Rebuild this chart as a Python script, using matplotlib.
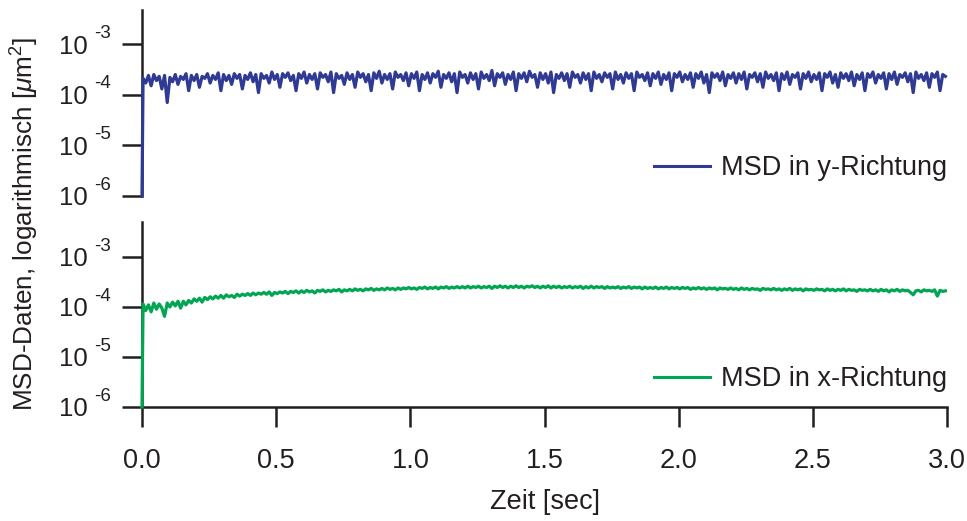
import numpy as np
import matplotlib
matplotlib.use("Agg")
import matplotlib.pyplot as plt
from matplotlib.ticker import FixedLocator, FixedFormatter

plt.rcParams['font.family'] = ['Liberation Sans', 'DejaVu Sans']
plt.rcParams['mathtext.fontset'] = 'custom'
plt.rcParams['mathtext.rm'] = 'Liberation Sans'
plt.rcParams['mathtext.it'] = 'Liberation Sans:italic'
plt.rcParams['mathtext.bf'] = 'Liberation Sans:bold'

# lag step [sec]; the first entry of each series is lag 0
dt = 0.01
first_lag = 0.004

# MSD along y, in units of 1e-4 um^2 (lag 0 clipped to the axis floor)
msd_y_e4 = [
    0.01, 2.1, 1.7, 2.4, 1.5, 2.5, 1.9, 2.3, 1.3, 2.4, 0.7, 2.2, 1.8, 2.5, 1.6, 2.3, 2.0, 2.6, 1.2, 2.4,
    1.9, 2.5, 1.4, 2.3, 2.1, 2.6, 1.7, 2.4, 2.0, 2.7, 1.2, 2.5, 1.9, 2.4, 1.6, 2.6, 2.1, 2.5, 1.3, 2.4,
    2.0, 2.7, 1.8, 2.5, 1.1, 2.6, 2.1, 2.4, 1.7, 2.8, 2.0, 2.5, 1.4, 2.6, 2.2, 2.7, 1.9, 2.4, 1.2, 2.6,
    2.1, 2.8, 1.7, 2.5, 2.0, 2.6, 1.3, 2.7, 2.2, 2.5, 1.8, 2.8, 1.1, 2.6, 2.1, 2.4, 1.6, 2.7, 2.0, 2.5,
    1.4, 2.8, 2.2, 2.6, 1.8, 2.5, 1.2, 2.7, 2.1, 2.9, 1.7, 2.5, 2.0, 2.6, 1.3, 2.8, 2.2, 2.5, 1.9, 2.7,
    1.5, 2.6, 2.1, 2.8, 1.2, 2.5, 2.0, 2.7, 1.7, 2.6, 2.2, 2.9, 1.4, 2.5, 2.1, 2.7, 1.8, 2.6, 1.1, 2.8,
    2.2, 2.5, 1.7, 2.7, 2.0, 2.6, 1.3, 2.8, 2.1, 2.5, 1.9, 3.0, 1.5, 2.6, 2.2, 2.7, 1.6, 2.5, 2.0, 2.8,
    1.2, 2.6, 2.1, 2.7, 1.8, 2.9, 2.2, 2.5, 1.4, 2.7, 2.0, 2.6, 1.7, 2.8, 1.1, 2.5, 2.1, 2.7, 1.9, 2.6,
    1.4, 2.8, 2.2, 2.5, 1.7, 2.7, 2.0, 2.6, 1.2, 2.8, 2.1, 2.5, 1.8, 2.7, 2.2, 2.6, 1.3, 2.8, 2.0, 2.5,
    1.7, 2.7, 2.1, 2.6, 1.2, 2.8, 2.2, 2.5, 1.9, 2.7, 1.5, 2.6, 2.1, 2.8, 1.6, 2.5, 2.0, 2.7, 1.2, 2.6,
    2.2, 2.8, 1.8, 2.5, 2.0, 2.7, 1.4, 2.6, 2.1, 2.8, 1.7, 2.5, 1.1, 2.7, 2.2, 2.6, 1.9, 2.8, 1.5, 2.5,
    2.1, 2.7, 1.7, 2.6, 2.0, 2.8, 1.3, 2.5, 2.2, 2.7, 1.8, 2.6, 1.4, 2.8, 2.1, 2.5, 1.9, 2.7, 1.2, 2.6,
    2.0, 2.8, 1.6, 2.5, 2.2, 2.7, 1.3, 2.6, 2.1, 2.8, 1.8, 2.5, 2.0, 2.7, 1.2, 2.6, 2.2, 2.8, 1.7, 2.5,
    1.4, 2.7, 2.1, 2.6, 1.9, 2.8, 1.5, 2.5, 2.0, 2.7, 1.2, 2.6, 2.2, 2.8, 1.7, 2.5, 2.1, 2.7, 1.3, 2.6,
    2.0, 2.8, 1.6, 2.5, 2.2, 2.7, 1.8, 2.6, 1.1, 2.8, 2.1, 2.5, 1.9, 2.7, 1.4, 2.6, 2.2, 2.8, 1.2, 2.5,
    2.3,
]

# MSD along x, in units of 1e-4 um^2
msd_x_e4 = [
    0.01, 1.15, 0.85, 1.1, 0.8, 1.2, 0.9, 1.15, 0.95, 0.65, 1.2, 1.0, 1.25, 1.05, 1.3, 0.95, 1.3, 1.1, 1.35, 1.2,
    1.45, 1.3, 1.5, 1.25, 1.55, 1.4, 1.6, 1.45, 1.65, 1.5, 1.7, 1.5, 1.75, 1.6, 1.7, 1.55, 1.8, 1.65, 1.8, 1.7,
    1.85, 1.7, 1.9, 1.75, 1.9, 1.8, 1.95, 1.8, 2.0, 1.7, 1.95, 1.85, 2.0, 1.9, 2.05, 1.85, 2.05, 1.95, 2.1, 1.9,
    2.1, 1.95, 2.15, 2.0, 2.1, 1.9, 2.15, 2.05, 2.2, 2.0, 2.15, 2.05, 2.2, 2.1, 2.25, 2.0, 2.2, 2.1, 2.25, 2.1,
    2.3, 2.15, 2.25, 2.1, 2.3, 2.2, 2.35, 2.15, 2.3, 2.2, 2.35, 2.2, 2.4, 2.25, 2.35, 2.2, 2.4, 2.25, 2.4, 2.3,
    2.45, 2.3, 2.4, 2.25, 2.45, 2.35, 2.5, 2.3, 2.45, 2.35, 2.5, 2.3, 2.5, 2.4, 2.55, 2.35, 2.5, 2.4, 2.55, 2.4,
    2.55, 2.4, 2.6, 2.4, 2.55, 2.45, 2.6, 2.4, 2.55, 2.45, 2.6, 2.35, 2.6, 2.45, 2.65, 2.45, 2.6, 2.4, 2.6, 2.45,
    2.65, 2.45, 2.6, 2.4, 2.6, 2.5, 2.65, 2.45, 2.6, 2.4, 2.6, 2.45, 2.65, 2.4, 2.6, 2.45, 2.6, 2.4, 2.55, 2.45,
    2.6, 2.4, 2.55, 2.45, 2.6, 2.35, 2.55, 2.4, 2.6, 2.4, 2.55, 2.45, 2.55, 2.35, 2.55, 2.4, 2.5, 2.4, 2.55, 2.35,
    2.5, 2.4, 2.55, 2.35, 2.5, 2.4, 2.5, 2.3, 2.5, 2.35, 2.45, 2.35, 2.5, 2.3, 2.45, 2.35, 2.5, 2.3, 2.45, 2.35,
    2.45, 2.3, 2.45, 2.35, 2.45, 2.25, 2.4, 2.3, 2.45, 2.3, 2.4, 2.25, 2.4, 2.3, 2.4, 2.2, 2.4, 2.3, 2.35, 2.25,
    2.4, 2.25, 2.35, 2.2, 2.4, 2.25, 2.35, 2.2, 2.35, 2.25, 2.3, 2.15, 2.35, 2.25, 2.3, 2.2, 2.35, 2.2, 2.3, 2.15,
    2.3, 2.2, 2.35, 2.15, 2.3, 2.2, 2.3, 2.1, 2.3, 2.2, 2.25, 2.15, 2.3, 2.2, 2.25, 2.1, 2.3, 2.15, 2.25, 2.1,
    2.25, 2.15, 2.3, 2.1, 2.25, 2.15, 2.2, 2.05, 2.25, 2.15, 2.2, 2.1, 2.25, 2.1, 2.2, 2.05, 2.25, 2.1, 2.2, 2.0,
    2.2, 2.1, 2.25, 2.05, 2.2, 2.1, 2.15, 1.95, 1.75, 2.1, 2.15, 2.0, 2.2, 2.1, 2.15, 2.05, 2.2, 1.65, 2.15, 2.05,
    2.1,
]

y_ticks = [1e-6, 1e-5, 1e-4, 1e-3]
y_tick_base = ['10', '10', '10', '10']
y_tick_exp = ['-6', '-5', '-4', '-3']
x_ticks = [0.0, 0.5, 1.0, 1.5, 2.0, 2.5, 3.0]
x_tick_labels = ['0.0', '0.5', '1.0', '1.5', '2.0', '2.5', '3.0']

series = [
    ('MSD in y-Richtung', msd_y_e4, '#2e3a94'),
    ('MSD in x-Richtung', msd_x_e4, '#00a651'),
]

W, H = 967, 521
fig = plt.figure(figsize=(W / 100, H / 100), dpi=100)

# panel boxes in pixel units: (left, top, right, bottom)
boxes = [(142, 10, 947, 196), (142, 222, 947, 407)]
ylims = [(1e-6, 4.7e-3), (1e-6, 5.0e-3)]

INK = '#231f20'
FS_TICK_Y = 18.5
FS_EXP = 13.5
FS = 19.5

for i, ((label, vals, color), box, ylim) in enumerate(zip(series, boxes, ylims)):
    l, t, r, b = box
    ax = fig.add_axes([l / W, 1 - b / H, (r - l) / W, (b - t) / H])
    n = len(vals)
    t_vals = np.r_[0.0, first_lag + dt * np.arange(n - 1)]
    y_vals = np.asarray(vals) * 1e-4
    ax.plot(t_vals, y_vals, color=color, lw=2.3, label=label, clip_on=False,
            zorder=3)
    ax.set_yscale('log')
    ax.set_xlim(0, 3.0)
    ax.set_ylim(*ylim)
    ax.yaxis.set_major_locator(FixedLocator(y_ticks))
    ax.yaxis.set_major_formatter(FixedFormatter(y_tick_base))
    ax.yaxis.set_minor_locator(FixedLocator([]))
    for s in ['top', 'right']:
        ax.spines[s].set_visible(False)
    ax.spines['left'].set_linewidth(1.8)
    ax.spines['left'].set_color(INK)
    ax.tick_params(axis='y', which='major', direction='out', length=14.4,
                   width=1.8, color=INK, labelsize=FS_TICK_Y, pad=25,
                   labelcolor=INK)
    # raised exponents next to each "10"
    for yt, ex in zip(y_ticks, y_tick_exp):
        ax.annotate(ex, xy=(0, yt), xycoords=ax.get_yaxis_transform(),
                    xytext=(-34.5, 4.5), textcoords='offset points',
                    ha='left', va='baseline', fontsize=FS_EXP, color=INK,
                    annotation_clip=False)
    if i == 0:
        ax.spines['bottom'].set_visible(False)
        ax.set_xticks([])
    else:
        ax.spines['bottom'].set_linewidth(1.8)
        ax.spines['bottom'].set_color(INK)
        ax.set_xticks(x_ticks)
        ax.set_xticklabels(x_tick_labels)
        ax.tick_params(axis='x', which='major', direction='out', length=14.4,
                       width=1.8, color=INK, labelsize=FS, pad=15,
                       labelcolor=INK)
        ax.set_xlabel('Zeit [sec]', fontsize=FS, color=INK, labelpad=11)
    leg = ax.legend(loc='center right', bbox_to_anchor=(1.0, 0.15),
                    frameon=False, fontsize=FS, handlelength=2.05,
                    handletextpad=0.42, borderpad=0, borderaxespad=0)
    for txt in leg.get_texts():
        txt.set_color(INK)
    for hl in leg.get_lines():
        hl.set_linewidth(2.2)

fig.text(25 / W, 1 - 224 / H, r'MSD-Daten, logarithmisch [$\mu$m$^{2}$]',
         rotation=90, ha='center', va='center', fontsize=18.8, color=INK)

fig.savefig('out.png', dpi=100)
